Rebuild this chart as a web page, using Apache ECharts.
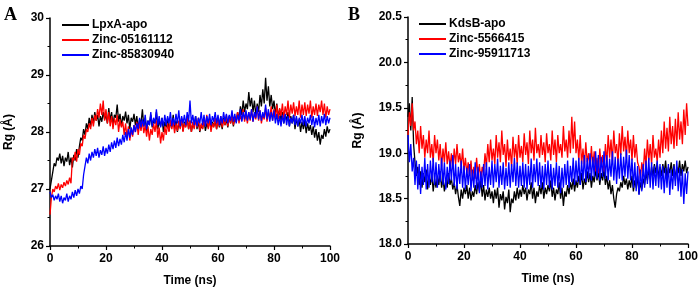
<!DOCTYPE html>
<html style="height: 100%">
<head>
	<meta charset="utf-8">
</head>
<body style="height: 100%; margin: 0; background: #fff">
<div id="container" style="width: 699px; height: 289px"></div>
<script type="text/javascript" src="https://cdn.jsdelivr.net/npm/echarts@6/dist/echarts.min.js"></script>
<script type="text/javascript">
    // time step of the trajectories (ns), values sampled every 0.5 ns from 0 to 100
    var timeStep = 0.5;

    var namesA = ['LpxA-apo', 'Zinc-05161112', 'Zinc-85830940'];
    var namesB = ['KdsB-apo', 'Zinc-5566415', 'Zinc-95911713'];
    var colors = ['#000000', '#ff0000', '#0000ff'];

    // panel A: Rg (Å)
    var lpxaApo = [
        27.00, 27.15, 27.30, 27.45, 27.40,
        27.55, 27.50, 27.62, 27.45, 27.58, 27.40, 27.55, 27.48, 27.65, 27.42, 27.55, 27.38, 27.60, 27.50, 27.70, 27.55,
        27.75, 27.90, 27.85, 28.05, 27.95, 28.15, 28.05, 28.25, 28.10, 28.30,
        28.15, 28.35, 28.20, 28.30, 28.10, 28.28, 28.18, 28.35, 28.22, 28.30,
        28.15, 28.42, 28.20, 28.35, 28.12, 28.30, 28.25, 28.48, 28.18, 28.32, 28.10, 28.28, 28.20, 28.36, 28.15, 28.30, 28.05, 28.25, 28.18, 28.32,
        28.12, 28.28, 28.05, 28.22, 28.15, 28.40, 28.10, 28.25, 28.02, 28.20, 28.12, 28.30, 28.08, 28.22, 28.15, 28.35, 28.05, 28.20, 28.10, 28.25,
        28.00, 28.18, 28.08, 28.25, 28.02, 28.15, 28.10, 28.30, 28.05, 28.20, 28.00, 28.15, 28.08, 28.22, 28.02, 28.18, 28.10, 28.25, 28.05, 28.20,
        28.00, 28.15, 28.08, 28.28, 28.05, 28.18, 28.00, 28.12, 28.06, 28.22, 28.02, 28.15, 28.08, 28.25, 28.04, 28.18, 28.10, 28.20, 28.05, 28.22,
        28.08, 28.20, 28.05, 28.25, 28.12, 28.22, 28.08, 28.28, 28.15, 28.30, 28.10, 28.25, 28.18, 28.35, 28.22, 28.45, 28.30, 28.55, 28.35, 28.50,
        28.40, 28.70, 28.45, 28.60, 28.35, 28.55, 28.30, 28.50, 28.35, 28.65, 28.45, 28.75, 28.50, 28.95, 28.55, 28.80, 28.45, 28.65, 28.40, 28.55,
        28.30, 28.50, 28.25, 28.40, 28.20, 28.35, 28.15, 28.30, 28.20, 28.35, 28.10, 28.28, 28.15, 28.30, 28.05, 28.25, 28.10, 28.22, 28.00, 28.18,
        28.05, 28.20, 27.98, 28.15, 28.02, 28.12, 27.95, 28.10, 27.90, 28.05, 27.85, 28.00, 27.78, 27.95, 27.88, 28.05, 27.92, 28.10, 27.98, 28.05
    ];
    var zinc05161112 = [
        26.55, 26.85, 27.00, 26.95, 27.05,
        27.00, 27.10, 26.98, 27.08, 27.02, 27.12, 27.05, 27.15, 27.08, 27.20, 27.10, 27.55, 27.50, 27.65, 27.48, 27.70,
        27.60, 27.80, 27.75, 27.95, 27.88, 28.05, 28.00, 28.15, 28.05, 28.25,
        28.10, 28.30, 28.20, 28.40, 28.25, 28.50, 28.30, 28.55, 28.20, 28.40,
        28.15, 28.35, 28.10, 28.28, 28.05, 28.25, 28.12, 28.30, 28.00, 28.22, 28.08, 28.18, 27.95, 28.15, 27.90, 28.10, 27.85, 28.05, 27.92, 28.12,
        28.00, 28.18, 27.95, 28.15, 28.02, 28.20, 27.98, 28.12, 27.92, 28.10, 27.85, 28.05, 27.95, 28.15, 28.00, 28.20, 27.90, 28.08, 27.80, 28.00,
        27.85, 28.10, 27.95, 28.15, 28.00, 28.22, 28.05, 28.18, 27.98, 28.15, 28.02, 28.20, 28.05, 28.25, 28.00, 28.15, 28.08, 28.28, 28.05, 28.20,
        28.00, 28.18, 28.05, 28.22, 28.08, 28.25, 28.02, 28.15, 28.05, 28.20, 28.10, 28.30, 28.05, 28.22, 28.00, 28.15, 28.08, 28.25, 28.05, 28.20,
        28.10, 28.28, 28.08, 28.22, 28.12, 28.30, 28.10, 28.25, 28.15, 28.32, 28.12, 28.28, 28.18, 28.35, 28.15, 28.30, 28.20, 28.40, 28.18, 28.32,
        28.15, 28.35, 28.20, 28.40, 28.18, 28.32, 28.22, 28.45, 28.20, 28.38, 28.15, 28.30, 28.22, 28.42, 28.18, 28.35, 28.25, 28.45, 28.20, 28.40,
        28.25, 28.48, 28.22, 28.42, 28.28, 28.50, 28.25, 28.45, 28.30, 28.55, 28.25, 28.48, 28.32, 28.52, 28.28, 28.45, 28.30, 28.55, 28.25, 28.48,
        28.30, 28.52, 28.28, 28.48, 28.32, 28.55, 28.25, 28.45, 28.30, 28.50, 28.28, 28.48, 28.35, 28.55, 28.30, 28.50, 28.25, 28.45, 28.30, 28.40
    ];
    var zinc85830940 = [
        26.95, 26.85, 26.90, 26.80, 26.88,
        26.82, 26.92, 26.78, 26.88, 26.75, 26.85, 26.80, 26.92, 26.78, 26.88, 26.82, 26.95, 26.85, 26.98, 26.88, 27.00,
        26.92, 27.05, 27.00, 27.25, 27.40, 27.55, 27.45, 27.62, 27.50, 27.65,
        27.55, 27.70, 27.58, 27.72, 27.55, 27.68, 27.60, 27.75, 27.58, 27.72,
        27.62, 27.78, 27.65, 27.82, 27.70, 27.85, 27.72, 27.90, 27.75, 27.88, 27.78, 27.95, 27.82, 28.00, 27.85, 28.05, 27.90, 28.08, 27.95, 28.12,
        28.00, 28.15, 28.05, 28.25, 28.08, 28.22, 28.10, 28.30, 28.05, 28.20, 28.12, 28.35, 28.10, 28.25, 28.15, 28.40, 28.12, 28.28, 28.08, 28.25,
        28.10, 28.30, 28.12, 28.28, 28.15, 28.35, 28.10, 28.25, 28.12, 28.32, 28.15, 28.38, 28.10, 28.28, 28.15, 28.30, 28.12, 28.35, 28.18, 28.55,
        28.15, 28.30, 28.12, 28.28, 28.10, 28.25, 28.15, 28.35, 28.12, 28.30, 28.10, 28.28, 28.15, 28.32, 28.12, 28.28, 28.18, 28.35, 28.15, 28.30,
        28.12, 28.28, 28.15, 28.35, 28.18, 28.32, 28.15, 28.30, 28.20, 28.38, 28.18, 28.32, 28.15, 28.30, 28.20, 28.40, 28.18, 28.35, 28.22, 28.38,
        28.20, 28.35, 28.22, 28.40, 28.18, 28.35, 28.25, 28.45, 28.22, 28.38, 28.20, 28.35, 28.25, 28.48, 28.22, 28.40, 28.18, 28.35, 28.20, 28.38,
        28.15, 28.32, 28.12, 28.28, 28.10, 28.30, 28.15, 28.32, 28.12, 28.28, 28.10, 28.25, 28.15, 28.30, 28.12, 28.28, 28.10, 28.25, 28.15, 28.30,
        28.12, 28.28, 28.10, 28.25, 28.15, 28.30, 28.12, 28.28, 28.08, 28.25, 28.12, 28.30, 28.10, 28.28, 28.15, 28.32, 28.12, 28.28, 28.15, 28.25
    ];

    // panel B: Rg (Å)
    var kdsbApo = [
        19.40, 19.55, 19.25, 19.62, 19.10,
        18.90, 18.75, 18.85, 18.65, 18.80, 18.62, 18.78, 18.68, 18.82, 18.60, 18.75, 18.65, 18.78, 18.58, 18.72, 18.62,
        18.75, 18.65, 18.80, 18.62, 18.72, 18.58, 18.70, 18.62, 18.78, 18.65, 18.72, 18.60, 18.68, 18.55, 18.65, 18.52, 18.42, 18.60, 18.50, 18.62,
        18.55, 18.65, 18.50, 18.62, 18.48, 18.58, 18.52, 18.65, 18.55, 18.68, 18.58, 18.70, 18.52, 18.65, 18.48, 18.60, 18.52, 18.62, 18.50, 18.58,
        18.45, 18.60, 18.50, 18.62, 18.40, 18.55, 18.48, 18.58, 18.38, 18.52, 18.45, 18.60, 18.35, 18.50, 18.45, 18.58, 18.48, 18.62, 18.50, 18.60,
        18.52, 18.65, 18.55, 18.62, 18.48, 18.60, 18.55, 18.68, 18.50, 18.62, 18.45, 18.58, 18.52, 18.65, 18.55, 18.68, 18.50, 18.62, 18.55, 18.65,
        18.58, 18.70, 18.52, 18.62, 18.48, 18.60, 18.55, 18.68, 18.50, 18.62, 18.42, 18.58, 18.52, 18.65, 18.55, 18.68, 18.60, 18.72, 18.58, 18.70,
        18.62, 18.75, 18.65, 18.78, 18.60, 18.72, 18.65, 18.80, 18.68, 18.78, 18.62, 18.75, 18.68, 18.82, 18.70, 18.80, 18.65, 18.78, 18.70, 18.82,
        18.65, 18.75, 18.60, 18.70, 18.55, 18.65, 18.50, 18.40, 18.55, 18.62, 18.58, 18.68, 18.62, 18.75, 18.65, 18.72, 18.60, 18.70, 18.62, 18.75,
        18.58, 18.70, 18.62, 18.75, 18.55, 18.68, 18.60, 18.72, 18.65, 18.78, 18.70, 18.82, 18.72, 18.85, 18.75, 18.88, 18.78, 18.90, 18.72, 18.85,
        18.75, 18.88, 18.78, 18.92, 18.72, 18.85, 18.78, 18.90, 18.75, 18.88, 18.70, 18.85, 18.78, 18.92, 18.75, 18.88, 18.80, 18.92, 18.78, 18.85
    ];
    var zinc5566415 = [
        19.20, 19.45, 19.30, 19.55, 19.25,
        19.35, 19.10, 19.25, 19.00, 19.30, 19.05, 19.20, 18.95, 19.15, 19.00, 19.25, 18.95, 19.10, 18.90, 19.20, 19.00,
        19.15, 18.92, 19.10, 18.85, 19.05, 18.90, 19.12, 18.88, 19.02, 18.85, 19.00, 18.82, 19.05, 18.88, 19.10, 18.90, 19.00, 18.85, 19.05, 18.80,
        18.95, 18.78, 18.90, 18.75, 18.92, 18.70, 18.85, 18.72, 18.95, 18.75, 18.88, 18.70, 18.85, 18.78, 19.00, 18.85, 19.10, 18.90, 19.15, 18.92,
        19.05, 18.88, 19.20, 18.95, 19.12, 18.90, 19.25, 18.98, 19.10, 18.85, 19.15, 18.92, 19.05, 18.85, 19.18, 18.95, 19.10, 18.88, 19.20, 18.95,
        19.08, 18.90, 19.22, 18.98, 19.12, 18.88, 19.25, 19.00, 19.15, 18.92, 19.28, 19.00, 19.10, 18.95, 19.20, 18.98, 19.12, 18.90, 19.22, 19.00,
        19.10, 18.92, 19.25, 18.98, 19.15, 18.90, 19.20, 19.00, 19.10, 18.95, 19.30, 19.02, 19.15, 18.95, 19.25, 19.00, 19.40, 19.05, 19.35, 19.00,
        19.15, 18.92, 19.20, 18.88, 19.05, 18.85, 19.12, 18.90, 19.00, 18.82, 19.08, 18.85, 19.02, 18.80, 18.95, 18.78, 19.05, 18.85, 18.98, 18.80,
        19.10, 18.88, 19.20, 18.95, 19.15, 18.90, 19.25, 19.00, 19.10, 18.88, 19.22, 18.98, 19.30, 19.02, 19.18, 18.95, 19.25, 19.00, 19.15, 18.92,
        19.20, 18.95, 19.10, 18.90, 18.85, 18.72, 18.90, 18.78, 19.05, 18.85, 19.15, 18.92, 19.10, 18.88, 19.20, 18.95, 19.05, 18.90, 19.15, 18.95,
        19.25, 19.00, 19.35, 19.05, 19.28, 19.02, 19.40, 19.10, 19.30, 19.05, 19.38, 19.08, 19.45, 19.15, 19.35, 19.10, 19.48, 19.20, 19.55, 19.30
    ];
    var zinc95911713 = [
        19.20, 18.90, 19.10, 18.80, 18.95,
        18.65, 18.92, 18.60, 18.88, 18.55, 18.85, 18.65, 18.95, 18.60, 18.88, 18.62, 18.92, 18.68, 18.95, 18.65, 18.90,
        18.62, 18.88, 18.68, 18.95, 18.65, 18.90, 18.60, 18.85, 18.66, 18.92, 18.70, 18.98, 18.64, 18.88, 18.60, 18.85, 18.66, 18.92, 18.62, 18.86,
        18.60, 18.84, 18.65, 18.88, 18.58, 18.82, 18.62, 18.90, 18.60, 18.85, 18.56, 18.80, 18.62, 18.88, 18.64, 18.90, 18.60, 18.85, 18.65, 18.92,
        18.62, 18.88, 18.68, 18.94, 18.62, 18.86, 18.65, 18.90, 18.60, 18.84, 18.64, 18.90, 18.62, 18.88, 18.68, 18.95, 18.64, 18.90, 18.62, 18.86,
        18.64, 18.90, 18.62, 18.88, 18.60, 18.86, 18.65, 18.94, 18.62, 18.88, 18.68, 18.94, 18.64, 18.90, 18.62, 18.86, 18.60, 18.88, 18.65, 18.92,
        18.62, 18.88, 18.60, 18.84, 18.64, 18.90, 18.62, 18.86, 18.56, 18.84, 18.62, 18.88, 18.65, 18.92, 18.62, 18.86, 18.68, 18.95, 18.65, 18.92,
        18.68, 18.95, 18.65, 18.92, 18.70, 18.98, 18.68, 18.95, 18.72, 19.00, 18.70, 18.96, 18.74, 19.02, 18.72, 18.98, 18.70, 18.96, 18.74, 19.02,
        18.72, 18.98, 18.70, 18.94, 18.74, 19.02, 18.70, 18.96, 18.66, 18.94, 18.72, 19.00, 18.70, 18.96, 18.74, 19.04, 18.72, 18.98, 18.70, 18.94,
        18.62, 18.90, 18.58, 18.86, 18.54, 18.82, 18.58, 18.88, 18.62, 18.92, 18.66, 18.95, 18.62, 18.90, 18.60, 18.86, 18.64, 18.92, 18.62, 18.88,
        18.60, 18.86, 18.56, 18.84, 18.62, 18.88, 18.54, 18.82, 18.60, 18.86, 18.64, 18.92, 18.58, 18.84, 18.52, 18.82, 18.44, 18.78, 18.55, 18.80
    ];

    var seriesA = [lpxaApo, zinc05161112, zinc85830940];
    var seriesB = [kdsbApo, zinc5566415, zinc95911713];

    function toPairs(values) {
        return values.map(function (v, i) { return [i * timeStep, v]; });
    }

    var font = 'Liberation Sans';
    var txt = {color: '#000', fontFamily: font, fontWeight: 'bold', fontSize: 12};

    function xAxisFor(idx) {
        return {
            gridIndex: idx, type: 'value', min: 0, max: 100, interval: 20,
            name: 'Time (ns)', nameLocation: 'middle', nameGap: 29, nameTextStyle: txt,
            axisLine: {lineStyle: {color: '#000', width: 1.5}},
            axisTick: {inside: false, length: 4, lineStyle: {color: '#000', width: 1.2}},
            minorTick: {show: true, splitNumber: 2, length: 2.5, lineStyle: {color: '#000', width: 1}},
            axisLabel: Object.assign({margin: 7}, txt),
            splitLine: {show: false}
        };
    }

    function yAxisFor(idx, min, max, interval, digits, gap) {
        return {
            gridIndex: idx, type: 'value', min: min, max: max, interval: interval,
            name: 'Rg (Å)', nameLocation: 'middle', nameGap: gap, nameTextStyle: txt,
            axisLine: {show: true, lineStyle: {color: '#000', width: 1.5}},
            axisTick: {show: true, inside: false, length: 4, lineStyle: {color: '#000', width: 1.2}},
            minorTick: {show: true, splitNumber: 2, length: 2.5, lineStyle: {color: '#000', width: 1}},
            axisLabel: Object.assign({margin: 6, formatter: function (v) { return v.toFixed(digits); }}, txt),
            splitLine: {show: false}
        };
    }

    var series = [];
    namesA.forEach(function (n, i) {
        series.push({name: n, type: 'line', xAxisIndex: 0, yAxisIndex: 0, showSymbol: false, animation: false,
            lineStyle: {color: colors[i], width: 1.3}, itemStyle: {color: colors[i]}, data: toPairs(seriesA[i])});
    });
    namesB.forEach(function (n, i) {
        series.push({name: n, type: 'line', xAxisIndex: 1, yAxisIndex: 1, showSymbol: false, animation: false,
            lineStyle: {color: colors[i], width: 1.3}, itemStyle: {color: colors[i]}, data: toPairs(seriesB[i])});
    });

    var legendBase = {
        orient: 'vertical', icon: 'rect', itemWidth: 27, itemHeight: 2, itemGap: 3,
        textStyle: Object.assign({padding: [0, 0, 0, -2]}, txt)
    };

    var myChart = echarts.init(document.getElementById('container'));
    myChart.setOption({
        backgroundColor: '#fff',
        animation: false,
        title: [
            {text: 'A', left: -1, top: 1, textStyle: {fontFamily: 'Liberation Serif', fontWeight: 'bold', fontSize: 18, color: '#000'}},
            {text: 'B', left: 343, top: 1, textStyle: {fontFamily: 'Liberation Serif', fontWeight: 'bold', fontSize: 18, color: '#000'}}
        ],
        legend: [
            Object.assign({data: namesA, left: 57, top: 14}, legendBase),
            Object.assign({data: namesB, left: 414, top: 13}, legendBase)
        ],
        grid: [
            {left: 50, right: 369, top: 18, bottom: 43, outerBoundsMode: 'none', containLabel: false},
            {left: 408, right: 11, top: 17, bottom: 45, outerBoundsMode: 'none', containLabel: false}
        ],
        xAxis: [xAxisFor(0), xAxisFor(1)],
        yAxis: [yAxisFor(0, 26, 30, 1, 0, 35), yAxisFor(1, 18, 20.5, 0.5, 1, 44)],
        series: series
    });
</script>
</body>
</html>
